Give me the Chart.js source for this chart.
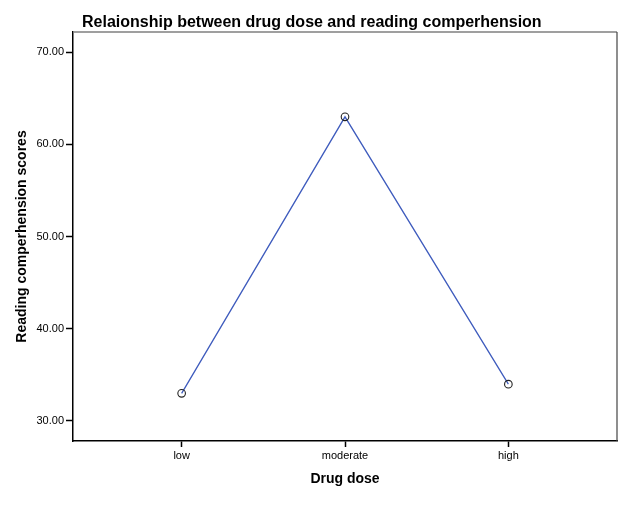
<!DOCTYPE html>
<html>
<head>
<meta charset="utf-8">
<script src="https://cdn.jsdelivr.net/npm/chart.js@4.4.1/dist/chart.umd.min.js"></script>
<style>
  html, body { margin: 0; padding: 0; background: #fff; }
  #wrap { width: 625px; height: 526px; position: relative; }
</style>
</head>
<body>
<div id="wrap"><canvas id="doseChart"></canvas></div>
<script>
// Chart data
const doseLabels = ['low', 'moderate', 'high'];
const meanScores = [33, 63, 34];
const yTicks = [30, 40, 50, 60, 70];

const chartTitle = 'Relaionship between drug dose and reading comperhension';

// Title drawn left-aligned above the plot frame, like the SPSS output
const titlePlugin = {
    id: 'leftTitle',
    afterDraw(chart) {
        const ctx = chart.ctx;
        ctx.save();
        ctx.font = "bold 16px 'Liberation Sans', Arial, sans-serif";
        ctx.fillStyle = '#000';
        ctx.textBaseline = 'alphabetic';
        ctx.textAlign = 'left';
        ctx.fillText(chartTitle, 82, 27);
        ctx.restore();
    }
};

// Plot frame: grey top, dark right, black left/bottom
const framePlugin = {
    id: 'frame',
    afterDatasetsDraw(chart) {
        const { ctx, chartArea: a } = chart;
        ctx.save();
        ctx.lineWidth = 1.5;
        ctx.strokeStyle = '#7f7f7f';
        ctx.beginPath();
        ctx.moveTo(a.left, a.top);
        ctx.lineTo(a.right, a.top);
        ctx.stroke();
        ctx.strokeStyle = '#444';
        ctx.lineWidth = 1.2;
        ctx.beginPath();
        ctx.moveTo(a.right, a.top);
        ctx.lineTo(a.right, a.bottom);
        ctx.stroke();
        ctx.restore();
    }
};

Chart.defaults.font.family = "'Liberation Sans', Arial, sans-serif";
Chart.defaults.color = '#000';

new Chart(document.getElementById('doseChart').getContext('2d'), {
    type: 'line',
    data: {
        datasets: [{
            data: meanScores.map((v, i) => ({ x: i, y: v })),
            borderColor: '#3e5bbd',
            borderWidth: 1.3,
            tension: 0,
            fill: false,
            pointRadius: 3.8,
            pointBorderWidth: 1.1,
            pointBorderColor: '#222',
            pointBackgroundColor: 'rgba(0,0,0,0)'
        }]
    },
    options: {
        responsive: true,
        maintainAspectRatio: false,
        animation: false,
        layout: { padding: { top: 32, right: 8, left: 0, bottom: 0 } },
        plugins: {
            legend: { display: false },
            tooltip: { enabled: false }
        },
        scales: {
            x: {
                type: 'linear',
                min: -0.665,
                max: 2.665,
                afterFit: (s) => { s.height = 85; },
                afterBuildTicks: (s) => { s.ticks = doseLabels.map((_, i) => ({ value: i })); },
                ticks: {
                    callback: (val) => doseLabels[val] ?? '',
                    font: { size: 11 },
                    color: '#000',
                    padding: 2,
                    maxRotation: 0
                },
                grid: {
                    drawOnChartArea: false,
                    drawTicks: true,
                    tickLength: 6,
                    tickColor: '#000',
                    tickWidth: 1.5
                },
                border: { display: true, color: '#000', width: 1.5 },
                title: {
                    display: true,
                    text: 'Drug dose',
                    font: { size: 14, weight: 'bold' },
                    color: '#000',
                    padding: { top: 0, bottom: 38 }
                }
            },
            y: {
                min: 27.83,
                max: 72.2,
                afterFit: (s) => { s.width = 73; },
                afterBuildTicks: (s) => { s.ticks = yTicks.map(v => ({ value: v })); },
                ticks: {
                    callback: (val) => Number(val).toFixed(2),
                    font: { size: 11 },
                    color: '#000',
                    padding: 2
                },
                grid: {
                    drawOnChartArea: false,
                    drawTicks: true,
                    tickLength: 7,
                    tickColor: '#000',
                    tickWidth: 1.5
                },
                border: { display: true, color: '#000', width: 1.5 },
                title: {
                    display: true,
                    text: 'Reading comperhension scores',
                    font: { size: 14, weight: 'bold' },
                    color: '#000',
                    padding: { top: 14, bottom: 0 }
                }
            }
        }
    },
    plugins: [titlePlugin, framePlugin]
});
</script>
</body>
</html>
